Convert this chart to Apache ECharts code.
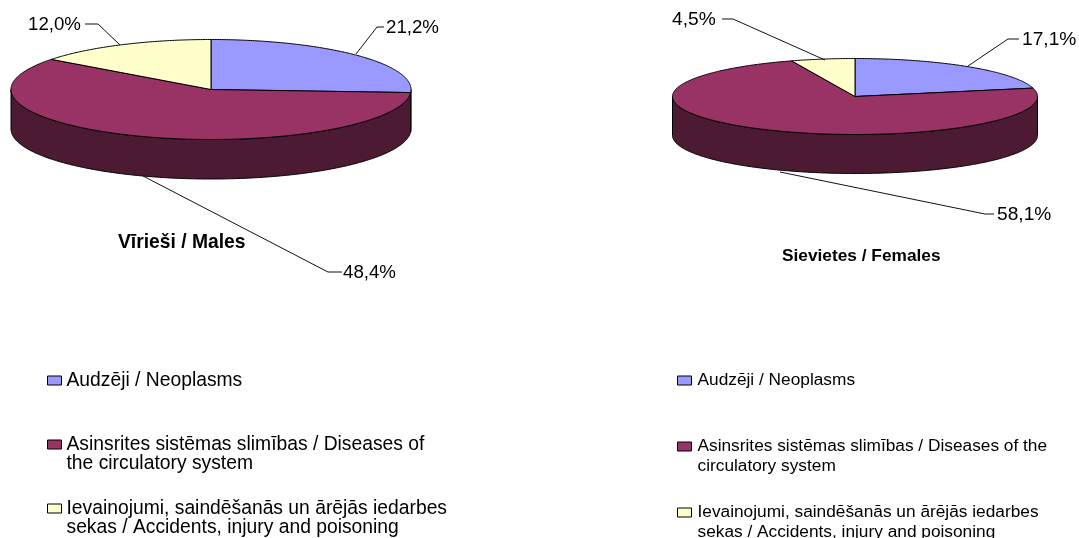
<!DOCTYPE html>
<html>
<head>
<meta charset="utf-8">
<style>html,body{margin:0;padding:0;background:#fff}#c{width:1079px;height:538px}</style>
<script src="https://cdn.jsdelivr.net/npm/echarts@6/dist/echarts.min.js"></script>
</head>
<body>
<div id="c"></div>
<script>
const categories = ['Audzēji / Neoplasms', 'Asinsrites sistēmas slimības / Diseases of the circulatory system', 'Ievainojumi, saindēšanās un ārējās iedarbes sekas / Accidents, injury and poisoning'];
const malesValues = [21.2, 48.4, 12.0];
const femalesValues = [17.1, 58.1, 4.5];
const colors = ['#9999FF', '#993366', '#FFFFCC'];
const sideColors = ['#4D4D80', '#4D1A33', '#808066'];
const malesLegendLines = [['Audzēji / Neoplasms'], ['Asinsrites sistēmas slimības / Diseases of', 'the circulatory system'], ['Ievainojumi, saindēšanās un ārējās iedarbes', 'sekas / Accidents, injury and poisoning']];
const femalesLegendLines = [['Audzēji / Neoplasms'], ['Asinsrites sistēmas slimības / Diseases of the', 'circulatory system'], ['Ievainojumi, saindēšanās un ārējās iedarbes', 'sekas / Accidents, injury and poisoning']];

const malesPie = { cx: 211, cy: 89.5, rx: 200, ry: 50, depth: 39.5, values: malesValues, fontSize: 18.7,
  leaders: [
    { line: [[356, 54], [377, 27], [384, 27]], text: [386, 27.5] },
    { line: [[143, 176], [328, 272], [342, 272]], text: [343, 272.5] },
    { line: [[120, 45], [98, 24], [85, 24]], text: [28, 24.5] }
  ] };
const femalesPie = { cx: 855, cy: 96.5, rx: 182.5, ry: 38, depth: 39, values: femalesValues, fontSize: 19.2,
  leaders: [
    { line: [[968, 66], [1008, 39], [1019, 39]], text: [1022, 39.5] },
    { line: [[780, 172], [985, 214], [994, 214]], text: [997, 214.5] },
    { line: [[825, 60], [733, 19], [722, 19]], text: [672, 19.5] }
  ] };

function pt(p, deg, dy) {
  const a = deg * Math.PI / 180;
  return [p.cx + p.rx * Math.sin(a), p.cy - p.ry * Math.cos(a) + (dy || 0)];
}
function arc(p, a0, a1, dy) {
  const n = Math.max(2, Math.ceil(Math.abs(a1 - a0) * 2));
  const out = [];
  for (let i = 0; i <= n; i++) out.push(pt(p, a0 + (a1 - a0) * i / n, dy));
  return out;
}
function sliceSeries(p, i) {
  const total = p.values.reduce((s, v) => s + v, 0);
  const before = p.values.slice(0, i).reduce((s, v) => s + v, 0);
  const a0 = before / total * 360;
  const a1 = (before + p.values[i]) / total * 360;
  const outline = { stroke: '#000', lineWidth: 1 };
  return {
    type: 'custom',
    name: categories[i],
    coordinateSystem: 'none',
    itemStyle: { color: colors[i] },
    silent: true,
    data: [[p.values[i]]],
    renderItem: function () {
      const children = [];
      const s0 = Math.max(a0, 90), s1 = Math.min(a1, 270);
      if (s1 > s0) {
        const top = arc(p, s0, s1, 0);
        const bottom = arc(p, s1, s0, p.depth);
        children.push({ type: 'polygon', shape: { points: top.concat(bottom) }, style: Object.assign({ fill: sideColors[i] }, outline) });
      }
      children.push({ type: 'polygon', shape: { points: [[p.cx, p.cy]].concat(arc(p, a0, a1, 0)) }, style: Object.assign({ fill: colors[i] }, outline) });
      const ld = p.leaders[i];
      children.push({ type: 'polyline', shape: { points: ld.line }, style: { stroke: '#111', lineWidth: 1, fill: null } });
      children.push({ type: 'text', style: { x: ld.text[0], y: ld.text[1], text: p.values[i].toFixed(1).replace('.', ',') + '%', fill: '#000', fontFamily: 'Liberation Sans', fontSize: p.fontSize, verticalAlign: 'middle', align: 'left' } });
      return { type: 'group', children: children };
    }
  };
}
function legendFormatter(lines) {
  return function (name) {
    const l = lines[categories.indexOf(name)];
    return '\n' + l[0] + '\n' + (l[1] || ' ');
  };
}
function legend(left, top, gap, lineHeight, fontSize, itemGap, lines) {
  return {
    orient: 'vertical', left: left, top: top, height: 400, padding: 0, itemGap: gap,
    itemWidth: 14, itemHeight: 9, icon: 'rect', selectedMode: false, data: categories,
    itemStyle: { borderColor: '#000', borderWidth: 1 },
    textStyle: { color: '#000', fontFamily: 'Liberation Sans', fontSize: fontSize, lineHeight: lineHeight, padding: [0, 0, 0, itemGap - 5] },
    formatter: legendFormatter(lines)
  };
}
const option = {
  animation: false,
  backgroundColor: '#fff',
  title: [
    { text: 'Vīrieši / Males', left: 118, top: 233, padding: 0, textStyle: { fontFamily: 'Liberation Sans', fontSize: 19.3, fontWeight: 'bold', color: '#000' } },
    { text: 'Sievietes / Females', left: 782, top: 248, padding: 0, textStyle: { fontFamily: 'Liberation Sans', fontSize: 17.3, fontWeight: 'bold', color: '#000' } }
  ],
  legend: [
    legend(47, 352, 7, 19, 19.3, 5, malesLegendLines),
    legend(677, 350.5, 6, 20, 17.3, 6, femalesLegendLines)
  ],
  series: [0, 1, 2].map(i => sliceSeries(malesPie, i)).concat([0, 1, 2].map(i => sliceSeries(femalesPie, i)))
};
echarts.init(document.getElementById('c'), null, { renderer: 'canvas' }).setOption(option);
</script>
</body>
</html>
